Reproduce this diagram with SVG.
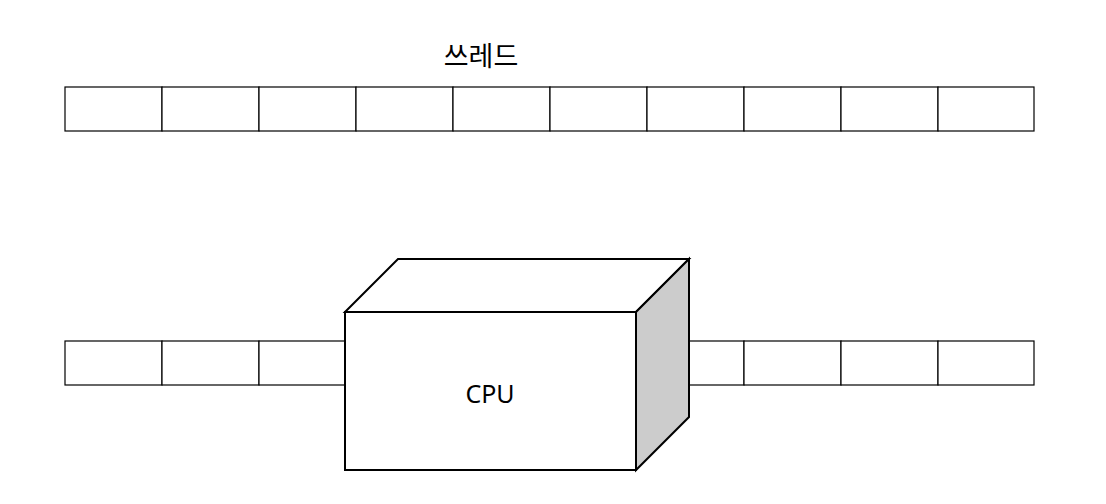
<svg xmlns="http://www.w3.org/2000/svg" width="1106" height="504" viewBox="0 0 1106 504">
<style>
.cell{fill:#fff;stroke:#000;stroke-width:1.2}
.face{stroke:#000;stroke-width:2;stroke-linejoin:miter}
.lbl{font-family:"Noto Sans","Noto Sans CJK KR",sans-serif;font-size:25px;fill:#000;text-anchor:middle}
</style>
<rect width="1106" height="504" fill="#fff"/>
<g id="title"><text class="lbl" x="481" y="66" style="font-family:'Noto Sans CJK KR',sans-serif;font-size:27px">쓰레드</text></g>
<g id="thread-row">
<rect class="cell" x="65" y="87" width="97" height="44"/>
<rect class="cell" x="162" y="87" width="97" height="44"/>
<rect class="cell" x="259" y="87" width="97" height="44"/>
<rect class="cell" x="356" y="87" width="97" height="44"/>
<rect class="cell" x="453" y="87" width="97" height="44"/>
<rect class="cell" x="550" y="87" width="97" height="44"/>
<rect class="cell" x="647" y="87" width="97" height="44"/>
<rect class="cell" x="744" y="87" width="97" height="44"/>
<rect class="cell" x="841" y="87" width="97" height="44"/>
<rect class="cell" x="938" y="87" width="96" height="44"/>
</g>
<g id="queue-row">
<rect class="cell" x="65" y="341" width="97" height="44"/>
<rect class="cell" x="162" y="341" width="97" height="44"/>
<rect class="cell" x="259" y="341" width="97" height="44"/>
<rect class="cell" x="647" y="341" width="97" height="44"/>
<rect class="cell" x="744" y="341" width="97" height="44"/>
<rect class="cell" x="841" y="341" width="97" height="44"/>
<rect class="cell" x="938" y="341" width="96" height="44"/>
</g>
<g id="connectors"></g>
<g id="cpu">
<polygon class="face" fill="#fff" points="345,312 398,259 689,259 636,312"/>
<polygon class="face" fill="#ccc" points="636,312 689,259 689,417 636,470"/>
<rect class="face" fill="#fff" x="345" y="312" width="291" height="158"/>
<text class="lbl" x="490" y="403">CPU</text>
</g>
</svg>
